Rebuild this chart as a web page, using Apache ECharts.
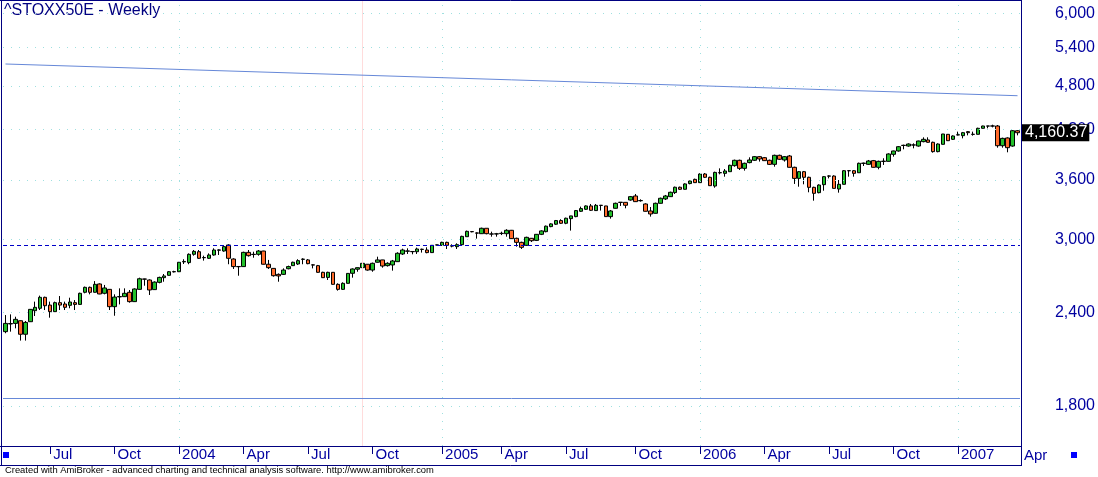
<!DOCTYPE html>
<html><head><meta charset="utf-8">
<script src="https://cdn.jsdelivr.net/npm/echarts@6/dist/echarts.min.js"></script>
<style>html,body{margin:0;padding:0;background:#fff}#c{width:1098px;height:477px}</style>
</head><body><div id="c"></div><script>
// Weekly bars (dated Fridays) starting 2003-05-02
const firstBarDate = '2003-05-02';
const barCount = 205;
const opens = [2261,2315,2319,2338,2243,2331,2411,2429,2512,2453,2404,2471,2461,2451,2471,2458,2551,2590,2551,2617,
2543,2574,2441,2515,2517,2551,2479,2574,2657,2649,2572,2630,2668,2687,2716,2717,2800,2794,2866,2889,
2836,2831,2860,2902,2895,2949,2825,2761,2760,2883,2866,2866,2895,2780,2745,2695,2695,2742,2768,2782,
2822,2817,2775,2768,2712,2670,2712,2614,2574,2622,2704,2738,2751,2780,2731,2797,2817,2768,2774,2802,
2869,2893,2891,2889,2911,2904,2881,2949,2946,2973,2942,2934,2952,3025,3073,3060,3053,3104,3051,3050,
3054,3053,3085,3010,2973,2946,3010,2991,3047,3072,3120,3143,3178,3152,3197,3217,3270,3290,3324,3277,
3331,3324,3217,3300,3362,3361,3385,3427,3380,3344,3273,3250,3351,3396,3420,3463,3520,3498,3560,3606,
3570,3666,3629,3533,3682,3673,3692,3761,3823,3730,3796,3823,3866,3854,3823,3776,3882,3827,3874,3742,
3617,3692,3629,3519,3462,3548,3644,3643,3501,3552,3704,3703,3680,3787,3776,3819,3742,3810,3811,3894,
3934,4003,3994,4006,3994,4048,4069,4040,3926,4015,4140,4077,4132,4123,4174,4139,4140,4217,4247,4246,
4247,3998,4094,3994,4186];
const highs = [2379,2384,2367,2340,2336,2423,2479,2525,2517,2479,2479,2522,2479,2509,2491,2548,2596,2596,2640,2622,
2609,2576,2535,2582,2582,2569,2582,2668,2659,2654,2638,2676,2698,2723,2725,2799,2823,2874,2904,2904,
2854,2874,2919,2910,2940,2955,2831,2762,2889,2904,2889,2904,2897,2817,2747,2703,2745,2768,2802,2823,
2831,2825,2780,2774,2717,2717,2714,2622,2630,2705,2745,2752,2794,2782,2794,2845,2818,2797,2817,2884,
2916,2919,2895,2925,2916,2928,2948,2952,2979,2979,2955,2964,3034,3082,3075,3066,3110,3105,3072,3060,
3072,3095,3088,3016,2979,3025,3013,3050,3085,3130,3152,3184,3191,3207,3225,3283,3317,3330,3344,3344,
3334,3325,3283,3358,3362,3362,3427,3448,3392,3351,3313,3358,3410,3438,3473,3527,3527,3563,3592,3614,
3673,3677,3636,3692,3730,3722,3772,3831,3831,3796,3858,3874,3874,3862,3831,3890,3890,3874,3886,3749,
3700,3700,3636,3526,3552,3643,3651,3651,3599,3711,3711,3711,3796,3796,3827,3827,3819,3847,3906,3938,
3994,4011,4027,4027,4060,4102,4102,4048,4027,4145,4144,4127,4174,4170,4182,4174,4225,4251,4248,4264,
4260,4098,4102,4195,4195];
const lows = [2250,2261,2284,2200,2200,2329,2372,2416,2416,2360,2402,2416,2416,2429,2416,2456,2543,2535,2549,2536,
2535,2416,2374,2458,2515,2471,2477,2572,2603,2530,2569,2622,2635,2685,2711,2715,2782,2780,2854,2825,
2811,2825,2854,2860,2889,2780,2740,2684,2758,2846,2836,2854,2778,2740,2676,2635,2690,2737,2766,2774,
2780,2780,2745,2709,2666,2649,2612,2564,2569,2620,2668,2717,2745,2726,2717,2794,2751,2760,2726,2800,
2860,2869,2866,2869,2881,2875,2879,2946,2940,2913,2928,2913,2946,3024,3066,3007,3051,3047,3025,3025,
3040,3025,3004,2934,2913,2940,2976,2985,3040,3066,3114,3136,3146,3143,3082,3211,3263,3283,3273,3273,
3277,3215,3197,3298,3324,3300,3378,3366,3368,3268,3217,3248,3349,3385,3418,3448,3491,3496,3552,3569,
3568,3621,3535,3515,3662,3636,3690,3749,3711,3704,3788,3815,3808,3815,3769,3749,3827,3808,3740,3556,
3526,3552,3466,3378,3455,3483,3617,3507,3462,3550,3636,3636,3678,3757,3769,3740,3719,3769,3809,3866,
3926,3954,3986,3966,3986,4040,4035,3914,3918,4013,4056,4069,4127,4089,4127,4123,4138,4213,4217,4229,
3974,3974,3918,3986,4127];
const closes = [2319,2318,2348,2243,2326,2421,2436,2512,2448,2404,2471,2453,2436,2476,2458,2543,2590,2551,2614,2538,
2585,2441,2514,2518,2543,2479,2577,2659,2656,2569,2632,2670,2682,2717,2718,2797,2804,2866,2892,2831,
2838,2860,2904,2905,2934,2831,2760,2759,2883,2854,2864,2895,2780,2751,2684,2682,2731,2760,2797,2811,
2824,2785,2773,2712,2668,2712,2614,2574,2622,2703,2740,2751,2788,2731,2788,2817,2765,2788,2808,2875,
2904,2896,2889,2913,2909,2881,2946,2950,2973,2946,2939,2952,3028,3075,3071,3058,3104,3053,3049,3052,
3057,3085,3007,2973,2928,3019,2988,3047,3079,3124,3146,3178,3152,3201,3224,3277,3297,3324,3280,3330,
3329,3217,3273,3351,3360,3331,3420,3368,3377,3270,3243,3351,3403,3427,3466,3520,3498,3556,3588,3570,
3666,3629,3537,3684,3679,3700,3765,3823,3730,3788,3827,3866,3839,3819,3776,3882,3835,3866,3742,3617,
3692,3629,3519,3455,3544,3636,3642,3508,3552,3703,3702,3673,3788,3790,3815,3742,3811,3813,3898,3934,
3986,4001,4019,4008,4056,4077,4040,3926,4019,4144,4060,4119,4134,4161,4161,4141,4217,4247,4246,4248,
3998,4089,3974,4186,4160.37];
const yTickValues = [1800,2400,3000,3600,4200,4800,5400,6000];
const lastClose = 4160.37;
const trendLine = [5136, 4660];     // start / end value of the long trend line
const supportLevel = 1845;          // horizontal blue line
const dashedLevel = 2949;           // dashed horizontal line
const selectedBar = 72;             // pink selection line (bar index)

// categories: weekly dates
const dates = [];
{
  const p = firstBarDate.split('-').map(Number);
  const t0 = Date.UTC(p[0], p[1]-1, p[2]);
  for (let i = 0; i < barCount; i++) {
    const d = new Date(t0 + i*7*86400000);
    dates.push(d.toISOString().slice(0,10));
  }
}
const monthOf = s => Number(s.slice(5,7));
const isQuarterStart = dates.map((d,i) => i > 0 && monthOf(d) !== monthOf(dates[i-1]) && [1,4,7,10].includes(monthOf(d)));
const isYearStart = dates.map((d,i) => i > 0 && monthOf(d) === 1 && monthOf(dates[i-1]) === 12);
const monthNames = {4:'Apr',7:'Jul',10:'Oct'};

const candleData = opens.map((o,i) => [o, closes[i], lows[i], highs[i]]);
const FONT = 'Liberation Sans, Arial, sans-serif';
const NAVY = '#000080';
const LABEL = '#0000a0';
const GRIDC = '#9fe0e0';

const chart = echarts.init(document.getElementById('c'), null, {renderer:'canvas'});
const fmt = v => Number(v).toLocaleString('en-US');

chart.setOption({
  animation: false,
  backgroundColor: '#fff',
  grid: {left: 3, right: 78, top: 1, bottom: 31, show: false},
  xAxis: {
    type: 'category', data: dates, boundaryGap: true,
    axisLine: {show: false},
    axisTick: {show: true, alignWithLabel: true, interval: (i) => isQuarterStart[i], length: 8, lineStyle: {color: NAVY}},
    axisLabel: {
      interval: (i) => isQuarterStart[i],
      formatter: (v) => { const m = monthOf(v); return m === 1 ? v.slice(0,4) : monthNames[m]; },
      align: 'left', verticalAlign: 'top', margin: 1, padding: [0,0,0,3],
      color: LABEL, fontSize: 15, fontFamily: FONT
    },
    splitLine: {show: false}
  },
  yAxis: {
    type: 'log', logBase: 10, min: 1592.5, max: 6230, position: 'right',
    axisLine: {show: false}, axisTick: {show: false}, axisLabel: {show: false}, splitLine: {show: false}
  },
  series: [
    {
      type: 'line', data: [], z: 1, silent: true,
      markLine: {
        silent: true, symbol: ['none','none'], animation: false,
        data: [
          ...yTickValues.map(v => ({yAxis: v, lineStyle: {color: GRIDC, type: [1,7], width: 1},
            label: {show: true, position: 'end', formatter: fmt(v), align: 'right', distance: 75,
              color: LABEL, fontSize: 16, fontFamily: FONT}})),
          ...dates.map((d,i) => i).filter(i => isYearStart[i]).map(i => ({xAxis: i,
            lineStyle: {color: GRIDC, type: [1,7], width: 1}, label: {show: false}})),
          {xAxis: selectedBar, lineStyle: {color: '#ffdcdc', type: 'solid', width: 1}, label: {show: false}}
        ]
      }
    },
    {
      type: 'line', data: [], z: 2, silent: true,
      markLine: {
        silent: true, symbol: ['none','none'], animation: false, label: {show: false},
        data: [
          [{coord: [0, trendLine[0]]}, {coord: [barCount-1, trendLine[1]]}],
          {yAxis: supportLevel},
          {yAxis: dashedLevel, lineStyle: {color: '#0000c8', type: [4,3], width: 1}}
        ],
        lineStyle: {color: '#6688d8', width: 1, type: 'solid'}
      }
    },
    {
      type: 'candlestick', data: candleData, z: 3, barWidth: 4,
      itemStyle: {color: '#22c02a', color0: '#ff6a2a', borderColor: '#000', borderColor0: '#000', borderWidth: 1}
    },
    {
      type: 'line', data: [], z: 5, silent: true,
      markLine: {
        silent: true, symbol: ['none','none'], animation: false,
        data: [{yAxis: lastClose}],
        lineStyle: {color: 'rgba(0,0,0,0)', width: 1},
        label: {show: true, position: 'end', distance: 2, formatter: fmt(lastClose),
          backgroundColor: '#000', color: '#fff', fontSize: 16, fontFamily: FONT, padding: [1,2,0,3]}
      }
    }
  ],
  graphic: [
    {type: 'text', left: 4, top: 3, style: {text: '^STOXX50E - Weekly', fill: NAVY, font: '16px ' + FONT}},
    {type: 'line', shape: {x1: 0, y1: 0.5, x2: 1021.5, y2: 0.5}, style: {stroke: NAVY, lineWidth: 1}},
    {type: 'line', shape: {x1: 1.5, y1: 0, x2: 1.5, y2: 466}, style: {stroke: NAVY, lineWidth: 1}},
    {type: 'line', shape: {x1: 1021.5, y1: 0, x2: 1021.5, y2: 466}, style: {stroke: NAVY, lineWidth: 1}},
    {type: 'line', shape: {x1: 0, y1: 446.5, x2: 1021.5, y2: 446.5}, style: {stroke: NAVY, lineWidth: 1}},
    {type: 'line', shape: {x1: 0, y1: 465.5, x2: 1021.5, y2: 465.5}, style: {stroke: NAVY, lineWidth: 1}},
    {type: 'rect', shape: {x: 3, y: 452, width: 6, height: 6}, style: {fill: '#0000ff'}},
    {type: 'rect', shape: {x: 1071, y: 452, width: 6, height: 6}, style: {fill: '#0000ff'}},
    {type: 'text', left: 1024, top: 448, style: {text: 'Apr', fill: LABEL, font: '15px ' + FONT}},
    {type: 'text', left: 5, top: 466, style: {text: 'Created with AmiBroker - advanced charting and technical analysis software. http://www.amibroker.com', fill: '#000', font: '9.4px ' + FONT}}
  ]
});
</script></body></html>
